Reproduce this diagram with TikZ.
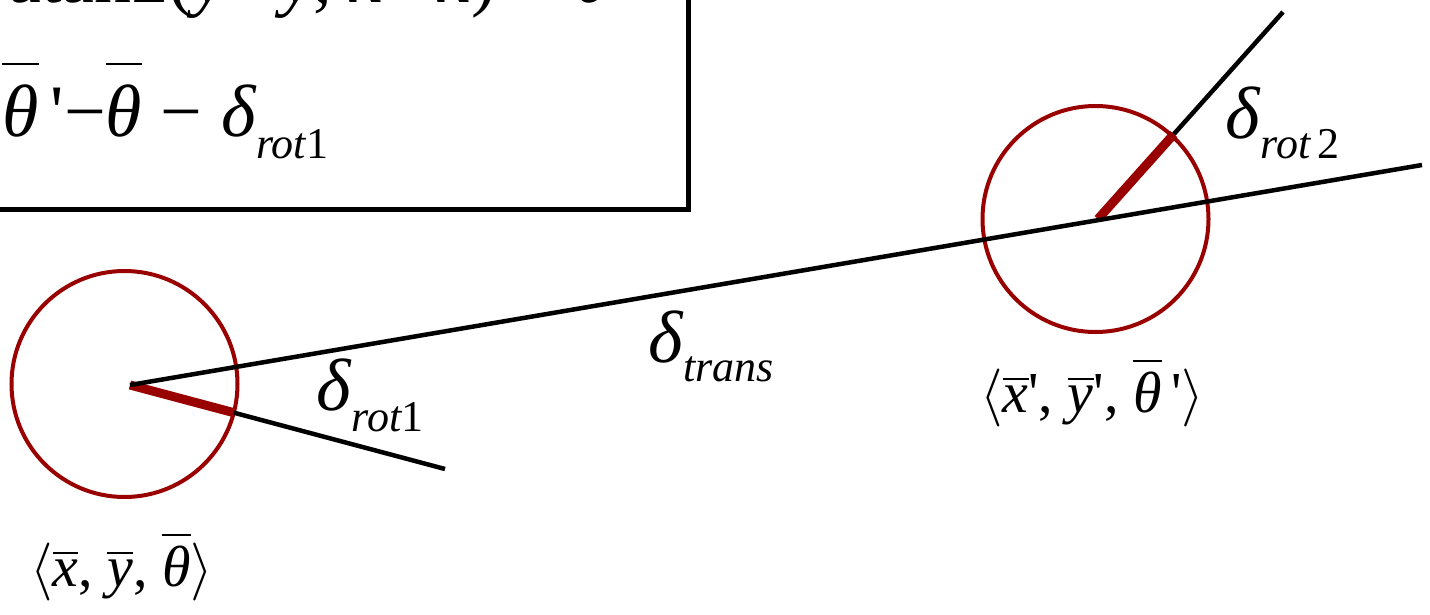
\documentclass[tikz,border=0pt]{standalone}
\usepackage{fix-cm}
\usepackage{fontspec}
\setmainfont{Liberation Serif}
\usetikzlibrary{calc}
\definecolor{robotred}{RGB}{153,0,0}
\newsavebox\ovlbox
\newcommand\ovl[2][4pt]{\sbox\ovlbox{#2}\rlap{\rule[\dimexpr\ht\ovlbox+#1\relax]{\wd\ovlbox}{2.4pt}}\usebox\ovlbox}
\newcommand\dsub[2][21pt]{{\itshape δ}\kern1pt\raisebox{-#1}{\fontsize{44}{44}\selectfont #2}}
\newcommand\pose[1]{$\left\langle\vrule height 52pt depth 26pt width 0pt\hbox{#1}\right\rangle$}
\tikzset{
  blk/.style={draw=black, line width=4.5pt},
  redthick/.style={draw=robotred, line width=9pt},
  robot/.style={circle, draw=robotred, line width=4pt, minimum size=226pt, inner sep=0pt},
  frame/.style={draw=black, line width=5pt, inner sep=0pt},
  big/.style={inner sep=0pt, anchor=base west, font=\fontsize{74}{80}\selectfont},
  lab/.style={inner sep=0pt, anchor=base west, font=\fontsize{58}{66}\selectfont},
}
\begin{document}
\begin{tikzpicture}[x=1pt, y=-1pt]
\path[use as bounding box, clip] (0,0) rectangle (1430,615);
% formula box (partly outside the picture)
\node[frame, minimum width=760pt, minimum height=260pt, anchor=south east] (box) at (691,212) {};
\node[big] (f1) at (8,3) {atan2(\ovl{\itshape y}\textquotesingle−\ovl{\itshape y}, \ovl{\itshape x}\textquotesingle−\ovl{\itshape x}) − \ovl{\itshape θ}};
\node[big] (f2) at (2,137) {\ovl[20pt]{\itshape θ}\,\textquotesingle−\ovl[20pt]{\itshape θ} − \dsub{{\itshape rot}1}};
% robots
\node[robot] (r1) at (124.5,384) {};
\node[robot] (r2) at (1095.5,219) {};
\coordinate (p1) at (130,385);
\coordinate (q1) at (445,469);
\coordinate (p2) at (1098,219);
\coordinate (q2) at (1283,12);
\coordinate (e) at (1422,165);
\coordinate (h1) at ($(p1)!0.33!(q1)$);
\coordinate (h2) at ($(p2)!0.41!(q2)$);
\draw[redthick] (p1) -- (h1);
\draw[redthick] (p2) -- (h2);
\draw[blk] (h1) -- (q1);
\draw[blk] (h2) -- (q2);
\draw[blk] (p1) -- (e);
% labels
\node[big] (d1) at (316,410) {\dsub{{\itshape rot}1}};
\node[big] (dt) at (648,362) {\dsub[19pt]{\itshape trans}};
\node[big] (d2) at (1225,139) {\dsub[20pt]{{\itshape rot}\,2}};
\node[lab] (l1) at (30,586) {\pose{\ovl[5pt]{\itshape x}, \ovl[5pt]{\itshape y}, \ovl[9pt]{\itshape θ}}};
\node[lab] (l2) at (980,412) {\pose{\ovl[5pt]{\itshape x}\textquotesingle, \ovl[5pt]{\itshape y}\textquotesingle, \ovl[9pt]{\itshape θ}\,\textquotesingle}};
\end{tikzpicture}
\end{document}
